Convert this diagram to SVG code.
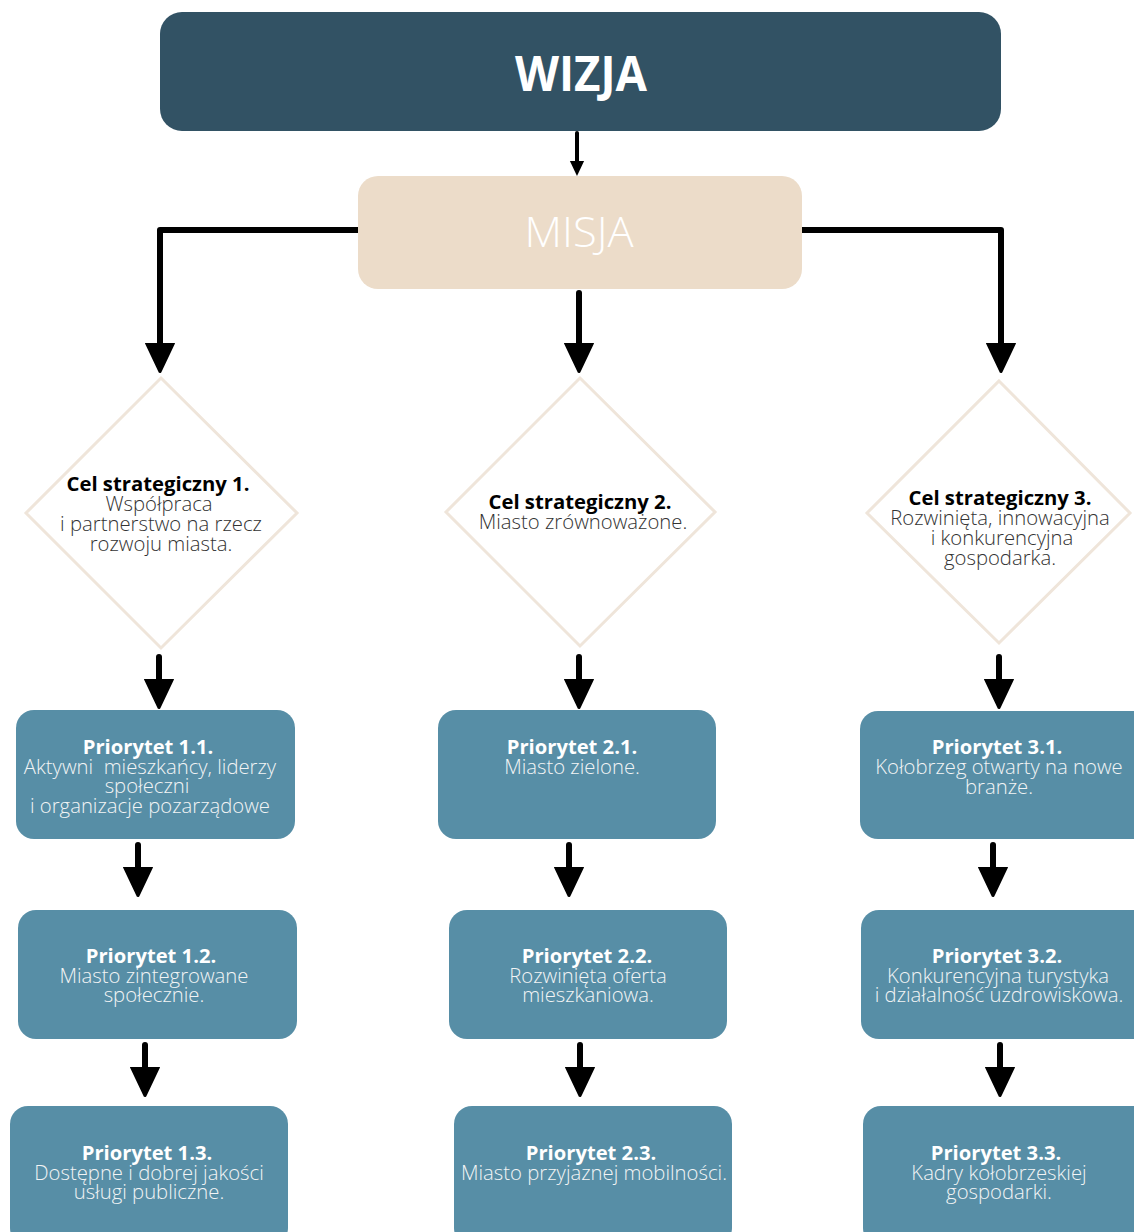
<svg xmlns="http://www.w3.org/2000/svg" width="1134" height="1232" viewBox="0 0 1134 1232">
<defs>
<style>
.pri{fill:#578ea6}
.dia{fill:#fff;stroke:#efe5da;stroke-width:3}
.t{font-family:"Open Sans","Liberation Sans",sans-serif;text-anchor:middle}
.pt{font-weight:700;font-size:20.2px;fill:#fff}
.pb{font-weight:300;font-size:20.3px;fill:#f2f4f5}
.dt{font-weight:700;font-size:20.3px;fill:#000}
.db{font-weight:300;font-size:20.3px;fill:#333}
.c{fill:none;stroke:#000;stroke-width:6;stroke-linecap:round;stroke-linejoin:round}
</style>
<marker id="ah" viewBox="0 0 10 10" refX="2" refY="5" markerWidth="5" markerHeight="5" orient="auto" markerUnits="strokeWidth">
<path d="M0,0.5 L9.5,5 L0,9.5 Z" fill="#000" stroke="#000" stroke-width="1" stroke-linejoin="round"/>
</marker>
<marker id="ahs" viewBox="0 0 10 10" refX="2" refY="5" markerWidth="4" markerHeight="4" orient="auto" markerUnits="strokeWidth">
<path d="M0,0.5 L9.5,5 L0,9.5 Z" fill="#000"/>
</marker>
</defs>
<rect width="1134" height="1232" fill="#fff"/>

<g id="connectors">
<path class="c" d="M577,133 V164" style="stroke-width:4" marker-end="url(#ahs)"/>
<path class="c" d="M358,230 H160 V349" marker-end="url(#ah)"/>
<path class="c" d="M802,230 H1001 V349" marker-end="url(#ah)"/>
<path class="c" d="M579,293 V349" marker-end="url(#ah)"/>
<path class="c" d="M159,657 V685" marker-end="url(#ah)"/>
<path class="c" d="M579,657 V685" marker-end="url(#ah)"/>
<path class="c" d="M999,657 V685" marker-end="url(#ah)"/>
<path class="c" d="M138,845 V873" marker-end="url(#ah)"/>
<path class="c" d="M569,845 V873" marker-end="url(#ah)"/>
<path class="c" d="M993,845 V873" marker-end="url(#ah)"/>
<path class="c" d="M145,1045 V1073" marker-end="url(#ah)"/>
<path class="c" d="M580,1045 V1073" marker-end="url(#ah)"/>
<path class="c" d="M1000,1045 V1073" marker-end="url(#ah)"/>
</g>

<g id="wizja">
<rect x="160" y="12" width="841" height="119" rx="22" fill="#325264"/>
<text class="t" x="581" y="91" font-size="48" font-weight="700" fill="#fff" textLength="132" lengthAdjust="spacingAndGlyphs">WIZJA</text>
</g>

<g id="misja">
<rect x="358" y="176" width="444" height="113" rx="20" fill="#ecdcc9"/>
<text class="t" x="579" y="247" font-size="43" font-weight="300" fill="#fff" textLength="109" lengthAdjust="spacingAndGlyphs">MISJA</text>
</g>

<g id="cel1">
<polygon class="dia" points="161,378 297,513 161,648 26,513"/>
<text class="t dt" x="158" y="491">Cel strategiczny 1.</text>
<text class="t db" x="159" y="511">Współpraca</text>
<text class="t db" x="161" y="531">i partnerstwo na rzecz</text>
<text class="t db" x="161" y="551">rozwoju miasta.</text>
</g>

<g id="cel2">
<polygon class="dia" points="580,378 715,512 580,646 446,512"/>
<text class="t dt" x="580" y="509">Cel strategiczny 2.</text>
<text class="t db" x="583" y="529">Miasto zrównoważone.</text>
</g>

<g id="cel3">
<polygon class="dia" points="999,381 1130,513 999,643 867,513"/>
<text class="t dt" x="1000" y="505">Cel strategiczny 3.</text>
<text class="t db" x="1000" y="525">Rozwinięta, innowacyjna</text>
<text class="t db" x="1002" y="545">i konkurencyjna</text>
<text class="t db" x="1000" y="565">gospodarka.</text>
</g>

<g id="p11">
<rect class="pri" x="16" y="710" width="279" height="129" rx="18"/>
<text class="t pt" x="148" y="754">Priorytet 1.1.</text>
<text class="t pb" x="150" y="774" xml:space="preserve">Aktywni  mieszkańcy, liderzy</text>
<text class="t pb" x="147" y="793">społeczni</text>
<text class="t pb" x="150" y="813">i organizacje pozarządowe</text>
</g>

<g id="p21">
<rect class="pri" x="438" y="710" width="278" height="129" rx="18"/>
<text class="t pt" x="572" y="754">Priorytet 2.1.</text>
<text class="t pb" x="572" y="774">Miasto zielone.</text>
</g>

<g id="p31">
<rect class="pri" x="860" y="711" width="290" height="128" rx="18"/>
<text class="t pt" x="997" y="754">Priorytet 3.1.</text>
<text class="t pb" x="999" y="774">Kołobrzeg otwarty na nowe</text>
<text class="t pb" x="999" y="794">branże.</text>
</g>

<g id="p12">
<rect class="pri" x="18" y="910" width="279" height="129" rx="18"/>
<text class="t pt" x="151" y="963">Priorytet 1.2.</text>
<text class="t pb" x="154" y="983">Miasto zintegrowane</text>
<text class="t pb" x="154" y="1002">społecznie.</text>
</g>

<g id="p22">
<rect class="pri" x="449" y="910" width="278" height="129" rx="18"/>
<text class="t pt" x="587" y="963">Priorytet 2.2.</text>
<text class="t pb" x="588" y="983">Rozwinięta oferta</text>
<text class="t pb" x="588" y="1002">mieszkaniowa.</text>
</g>

<g id="p32">
<rect class="pri" x="861" y="910" width="290" height="129" rx="18"/>
<text class="t pt" x="997" y="963">Priorytet 3.2.</text>
<text class="t pb" x="998" y="983">Konkurencyjna turystyka</text>
<text class="t pb" x="999" y="1002">i działalność uzdrowiskowa.</text>
</g>

<g id="p13">
<rect class="pri" x="10" y="1106" width="278" height="140" rx="18"/>
<text class="t pt" x="147" y="1160">Priorytet 1.3.</text>
<text class="t pb" x="149" y="1180">Dostępne i dobrej jakości</text>
<text class="t pb" x="149" y="1199">usługi publiczne.</text>
</g>

<g id="p23">
<rect class="pri" x="454" y="1106" width="278" height="140" rx="18"/>
<text class="t pt" x="591" y="1160">Priorytet 2.3.</text>
<text class="t pb" x="594" y="1180">Miasto przyjaznej mobilności.</text>
</g>

<g id="p33">
<rect class="pri" x="863" y="1106" width="290" height="140" rx="18"/>
<text class="t pt" x="996" y="1160">Priorytet 3.3.</text>
<text class="t pb" x="999" y="1180">Kadry kołobrzeskiej</text>
<text class="t pb" x="999" y="1199">gospodarki.</text>
</g>
</svg>
